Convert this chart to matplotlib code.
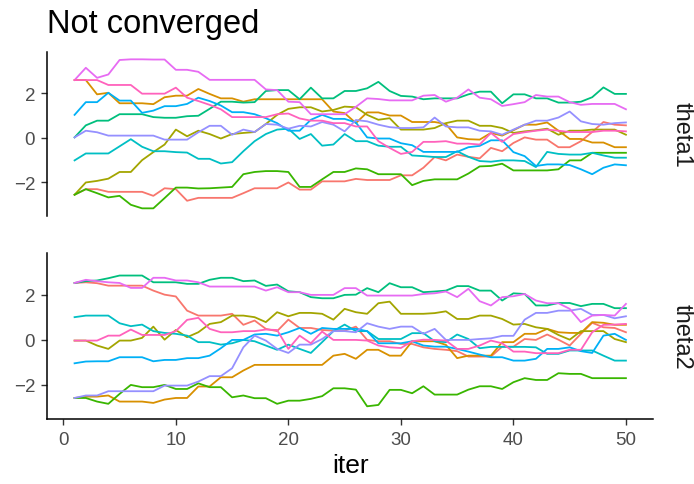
import matplotlib
matplotlib.use("Agg")
import matplotlib.pyplot as plt
import numpy as np

plt.rcParams['font.family'] = ['Liberation Sans', 'DejaVu Sans']

iters = np.arange(1, 51)
chain_colors = ['#F8766D', '#D89000', '#A3A500', '#39B600', '#00BF7D',
                '#00BFC4', '#00B0F6', '#9590FF', '#E76BF3', '#FF62BC']

# theta1, one list per chain
theta1_c1 = [-2.56, -2.31, -2.31, -2.43, -2.43, -2.43, -2.43, -2.61, -2.27, -2.31,
             -2.83, -2.70, -2.70, -2.70, -2.70, -2.49, -2.27, -2.27, -2.27, -2.01,
             -2.33, -2.33, -1.96, -1.96, -1.96, -1.85, -1.90, -1.90, -1.90, -1.69,
             -1.69, -1.35, -0.87, -1.02, -0.76, -0.86, -0.93, -0.46, -0.61, -0.24,
             0.01, -0.09, -0.09, -0.43, -0.43, -0.16, 0.25, 0.70, 0.58, 0.55]
theta1_c2 = [2.58, 2.58, 1.94, 2.01, 1.54, 1.54, 1.54, 1.50, 1.81, 1.88,
             1.88, 2.18, 1.96, 1.76, 1.76, 1.61, 1.72, 1.72, 1.72, 1.72,
             1.72, 1.72, 1.72, 1.17, 1.10, 0.65, 1.13, 1.13, 0.99, 0.99,
             0.70, 0.70, 0.70, 0.61, 0.01, -0.07, -0.09, 0.21, 0.09, 0.33,
             0.58, 0.58, 0.68, 0.31, -0.06, -0.06, -0.22, -0.22, -0.43, -0.43]
theta1_c3 = [-2.56, -2.01, -1.94, -1.84, -1.54, -1.54, -1.01, -0.65, -0.31, 0.36,
             0.06, 0.31, 0.16, -0.04, 0.16, 0.21, 0.25, 0.61, 1.02, 1.29,
             1.36, 1.36, 1.17, 1.24, 1.39, 1.36, 1.02, 0.80, 0.87, 0.36,
             0.36, 0.36, 0.43, 0.65, 0.76, 0.76, 0.53, 0.53, 0.43, 0.21,
             0.28, 0.33, 0.40, 0.13, 0.31, 0.31, 0.36, 0.36, 0.36, 0.13]
theta1_c4 = [-2.56, -2.31, -2.49, -2.68, -2.61, -3.01, -3.17, -3.17, -2.71, -2.24,
             -2.24, -2.28, -2.27, -2.24, -2.21, -1.64, -1.54, -1.50, -1.50, -1.54,
             -2.21, -2.21, -1.87, -1.54, -1.54, -1.38, -1.42, -1.64, -1.64, -1.64,
             -2.13, -1.94, -1.87, -1.87, -1.87, -1.61, -1.29, -1.27, -1.17, -1.47,
             -1.47, -1.47, -1.47, -1.42, -1.02, -1.02, -0.68, -0.68, -0.68, -0.68]
theta1_c5 = [0.01, 0.55, 0.76, 0.76, 1.05, 1.05, 1.05, 0.92, 0.89, 0.89,
             0.96, 0.98, 1.29, 1.61, 1.61, 1.57, 1.59, 2.09, 2.13, 2.13,
             1.72, 2.24, 1.76, 1.76, 2.09, 2.09, 2.21, 2.50, 2.09, 1.87,
             1.84, 1.72, 1.76, 1.76, 1.76, 1.94, 2.06, 2.06, 1.54, 1.94,
             1.94, 1.76, 1.76, 1.57, 1.57, 1.61, 1.81, 2.25, 1.96, 1.96]
theta1_c6 = [-1.02, -0.71, -0.71, -0.71, -0.39, -0.07, -0.41, -0.61, -0.61, -0.65,
             -0.67, -0.95, -0.95, -1.16, -1.10, -0.61, -0.16, 0.16, 0.36, 0.40,
             -0.06, 0.16, -0.36, -0.31, 0.16, -0.16, -0.16, -0.36, -0.41, -0.41,
             -0.80, -0.83, -0.87, -0.87, -0.61, -0.86, -1.05, -1.08, -1.02, -1.02,
             -1.05, -1.32, -0.64, -0.73, -0.76, -0.76, -0.68, -0.80, -0.90, -0.90]
theta1_c7 = [1.02, 1.59, 1.59, 2.01, 1.66, 1.66, 1.11, 1.21, 1.41, 1.41,
             1.51, 1.79, 1.64, 1.44, 1.14, 1.14, 1.05, 0.87, 0.65, 0.31,
             0.31, 0.80, 1.02, 0.84, 0.84, 0.68, 0.01, -0.04, -0.04, -0.25,
             -0.34, -0.64, -0.64, -0.64, -0.64, -0.43, -0.37, -0.12, -0.12, -0.65,
             -0.83, -1.27, -1.20, -1.20, -1.23, -1.42, -1.64, -1.35, -1.20, -1.24]
theta1_c8 = [0.01, 0.31, 0.24, 0.09, 0.09, 0.09, 0.09, 0.09, -0.09, -0.09,
             -0.09, 0.24, 0.53, 0.53, 0.13, 0.36, 0.25, 0.61, 0.58, 0.40,
             0.53, 0.50, 0.70, 0.58, 0.28, 0.79, 0.73, 0.58, 0.47, 0.43,
             0.43, 0.46, 0.90, 0.50, 0.46, 0.46, 0.31, 0.28, 0.13, 0.36,
             0.58, 0.76, 0.76, 0.90, 1.17, 0.73, 0.61, 0.58, 0.65, 0.68]
theta1_c9 = [2.58, 3.13, 2.68, 2.83, 3.48, 3.51, 3.51, 3.50, 3.50, 3.04,
             3.04, 2.95, 2.59, 2.59, 2.59, 2.59, 2.59, 2.16, 2.13, 1.61,
             1.59, 1.05, 1.05, 1.05, 1.05, 1.38, 1.76, 1.73, 1.67, 1.67,
             1.67, 1.88, 1.91, 1.61, 1.79, 2.16, 1.79, 1.72, 1.42, 1.50,
             1.59, 1.91, 1.84, 1.84, 1.59, 1.47, 1.51, 1.51, 1.51, 1.27]
theta1_c10 = [2.58, 2.58, 2.58, 2.36, 2.36, 2.36, 1.97, 1.97, 1.97, 2.24,
              1.79, 1.64, 1.47, 1.27, 0.92, 0.92, 0.92, 0.92, 1.05, 1.08,
              0.86, 0.76, 0.76, 0.65, 0.65, 0.50, 0.50, -0.16, -0.46, -0.73,
              -0.64, -0.19, -0.19, -0.16, -0.27, -0.27, -0.31, 0.21, -0.19, 0.16,
              0.24, 0.31, 0.36, 0.31, 0.25, 0.25, 0.25, 0.31, 0.31, 0.28]

# theta2, one list per chain
theta2_c1 = [2.53, 2.56, 2.52, 2.41, 2.41, 2.41, 2.41, 2.19, 2.01, 1.93,
             1.30, 1.08, 1.08, 1.08, 1.16, 0.67, 0.86, 0.49, 0.39, 0.90,
             0.53, 0.53, 0.44, 0.41, 0.41, 0.59, 0.00, -0.06, -0.06, -0.18,
             -0.18, -0.33, -0.40, -0.44, -0.50, -0.74, -0.74, -0.74, -0.30, -0.30,
             0.04, 0.00, 0.24, 0.01, -0.25, 0.27, 0.76, 0.56, 0.53, 0.34]
theta2_c2 = [-2.58, -2.52, -2.52, -2.47, -2.74, -2.74, -2.74, -2.80, -2.65, -2.58,
             -2.58, -2.07, -2.07, -1.66, -1.66, -1.36, -1.11, -1.11, -1.11, -1.11,
             -1.11, -1.11, -1.11, -0.70, -0.62, -0.84, -0.44, -0.44, -0.70, -0.70,
             -0.06, -0.06, -0.06, -0.22, -0.81, -0.70, -0.70, -0.70, -0.10, -0.10,
             0.27, 0.27, 0.49, 0.34, 0.31, 0.31, 0.79, 0.76, 0.67, 0.67]
theta2_c3 = [-0.03, -0.03, -0.25, -0.40, -0.03, -0.03, 0.09, 0.59, 0.01, 0.44,
             0.12, 0.34, 0.71, 0.79, 1.08, 1.08, 1.01, 0.79, 1.23, 1.05,
             1.20, 1.20, 1.16, 0.90, 1.38, 1.23, 1.16, 1.63, 1.70, 1.16,
             1.16, 1.16, 1.19, 1.27, 0.93, 0.93, 1.08, 1.08, 0.93, 0.68,
             0.71, 0.56, 0.49, 0.22, 0.01, 0.39, 0.39, 0.39, 0.04, -0.10]
theta2_c4 = [-2.58, -2.58, -2.74, -2.84, -2.40, -2.00, -2.10, -2.10, -2.00, -2.18,
             -2.18, -1.93, -2.10, -2.10, -2.55, -2.47, -2.59, -2.59, -2.84, -2.70,
             -2.70, -2.62, -2.50, -2.15, -2.15, -2.21, -2.95, -2.89, -2.22, -2.22,
             -2.37, -2.06, -2.43, -2.43, -2.43, -2.21, -2.06, -2.06, -2.18, -1.88,
             -1.70, -1.78, -1.78, -1.48, -1.51, -1.51, -1.70, -1.70, -1.70, -1.70]
theta2_c5 = [2.53, 2.61, 2.64, 2.74, 2.86, 2.86, 2.86, 2.56, 2.56, 2.56,
             2.49, 2.49, 2.67, 2.76, 2.76, 2.61, 2.64, 2.40, 2.46, 2.16,
             2.12, 1.90, 1.85, 1.85, 2.00, 2.01, 2.30, 2.12, 2.52, 2.34,
             2.34, 2.12, 2.15, 2.19, 2.39, 2.39, 2.19, 2.19, 1.75, 2.07,
             2.04, 1.53, 1.53, 1.64, 1.64, 1.50, 1.60, 1.60, 1.41, 1.41]
theta2_c6 = [1.01, 1.08, 1.08, 1.08, 0.74, 0.61, 0.68, 0.39, 0.31, 0.27,
             0.19, -0.10, -0.10, -0.21, -0.15, 0.00, -0.06, -0.25, -0.44, -0.21,
             -0.40, -0.58, -0.10, 0.39, 0.68, 0.39, 0.39, 0.04, 0.04, 0.04,
             0.30, 0.30, -0.06, -0.10, 0.24, 0.04, -0.37, -0.31, -0.31, -0.31,
             -0.31, -0.33, -0.62, -0.62, -0.47, -0.47, -0.47, -0.70, -0.92, -0.92]
theta2_c7 = [-1.04, -0.96, -0.95, -0.95, -0.77, -0.77, -0.77, -0.95, -0.89, -0.89,
             -0.81, -0.81, -0.70, -0.37, 0.00, 0.00, 0.24, 0.27, 0.19, 0.34,
             0.53, 0.27, 0.53, 0.49, 0.49, 0.49, 0.39, -0.15, -0.15, -0.15,
             -0.06, -0.25, -0.30, -0.30, -0.40, -0.52, -0.65, -0.77, -0.77, -0.92,
             -0.92, -0.84, -0.40, -0.40, -0.33, -0.50, -0.58, 0.19, 0.27, 0.00]
theta2_c8 = [-2.58, -2.47, -2.47, -2.28, -2.28, -2.28, -2.28, -2.28, -2.03, -2.03,
             -2.03, -1.85, -1.61, -1.61, -1.26, -0.33, 0.19, -0.03, -0.40, -0.58,
             -0.21, -0.21, 0.04, 0.39, 0.39, 0.34, 0.74, 0.59, 0.49, 0.59,
             0.59, 0.27, 0.49, 0.00, 0.00, 0.00, 0.04, 0.07, 0.18, 0.18,
             0.90, 1.20, 1.20, 1.30, 1.30, 1.38, 1.11, 1.11, 0.96, 1.05]
theta2_c9 = [2.53, 2.67, 2.61, 2.56, 2.53, 2.31, 2.31, 2.76, 2.76, 2.64,
             2.64, 2.56, 2.37, 2.37, 2.37, 2.37, 2.37, 2.19, 2.34, 2.12,
             2.12, 2.00, 2.00, 2.00, 2.30, 2.30, 1.97, 1.97, 1.97, 1.97,
             1.97, 2.04, 2.07, 2.15, 1.90, 2.27, 1.72, 1.53, 1.90, 1.94,
             2.04, 1.75, 1.63, 1.63, 1.38, 0.79, 1.08, 1.11, 1.08, 1.60]
theta2_c10 = [-0.03, -0.03, -0.03, 0.19, 0.19, 0.46, 0.22, 0.22, 0.22, 0.39,
              0.89, 0.98, 0.49, 0.34, 0.34, 0.39, 0.39, 0.46, 0.44, -0.40,
              0.19, -0.15, 0.37, 0.00, 0.00, 0.00, -0.03, -0.25, -0.33, -0.36,
              -0.06, 0.01, 0.00, -0.03, -0.40, -0.40, -0.25, -0.03, -0.15, -0.52,
              -0.52, -0.59, -0.59, -0.59, -0.44, -0.44, 0.34, 0.67, 0.68, 0.71]

theta1 = [theta1_c1, theta1_c2, theta1_c3, theta1_c4, theta1_c5,
          theta1_c6, theta1_c7, theta1_c8, theta1_c9, theta1_c10]
theta2 = [theta2_c1, theta2_c2, theta2_c3, theta2_c4, theta2_c5,
          theta2_c6, theta2_c7, theta2_c8, theta2_c9, theta2_c10]
panels = [("theta1", theta1), ("theta2", theta2)]

# shared scales with ggplot-like 5% expansion
all_vals = np.concatenate([np.ravel(theta1), np.ravel(theta2)])
ylo, yhi = all_vals.min(), all_vals.max()
ypad = 0.05 * (yhi - ylo)
xpad = 0.05 * (iters.max() - iters.min())

fig = plt.figure(figsize=(6.94, 4.85), dpi=100)
left, width = 47 / 694, (653.5 - 47) / 694
boxes = [(left, 0.553, width, 0.338), (left, 0.1345, width, 0.341)]

for k, (name, chains) in enumerate(panels):
    ax = fig.add_axes(boxes[k])
    for vals, col in zip(chains, chain_colors):
        ax.plot(iters, vals, color=col, linewidth=1.3)
    ax.set_xlim(iters.min() - xpad, iters.max() + xpad)
    ax.set_ylim(ylo - ypad, yhi + ypad)
    ax.set_yticks([-2, 0, 2])
    ax.set_xticks([0, 10, 20, 30, 40, 50])
    for s in ['top', 'right']:
        ax.spines[s].set_visible(False)
    ax.spines['left'].set_color('black')
    ax.spines['left'].set_linewidth(1.1)
    ax.tick_params(axis='both', colors='#333333', labelcolor='#4D4D4D',
                   labelsize=13.5, length=4.5, width=1.0, pad=4)
    if k == 0:
        ax.spines['bottom'].set_visible(False)
        ax.tick_params(axis='x', bottom=False, labelbottom=False)
    else:
        ax.spines['bottom'].set_color('black')
        ax.spines['bottom'].set_linewidth(1.1)
        ax.set_xlabel('iter', fontsize=19, color='black', labelpad=4)
    # facet strip label on the right
    ax.text(1.046, 0.5, name, transform=ax.transAxes, rotation=-90,
            ha='center', va='center', fontsize=17, color='#1A1A1A')

fig.text(47 / 694, 0.949, 'Not converged', fontsize=23.5, ha='left',
         va='center', color='black')

fig.savefig('out.png', dpi=100)
